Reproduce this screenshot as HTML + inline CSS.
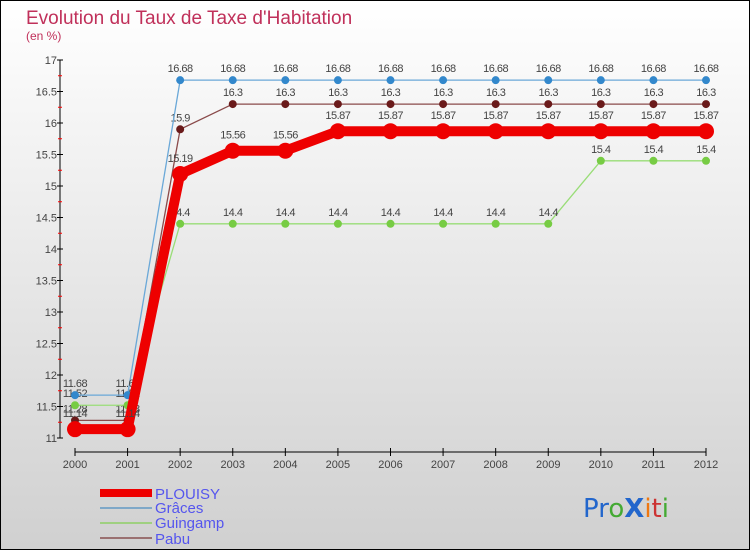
<!DOCTYPE html>
<html><head><meta charset="utf-8"><style>
body{margin:0;}
svg{display:block;font-family:"Liberation Sans",sans-serif;}
</style></head><body>
<svg width="750" height="550" viewBox="0 0 750 550">
<defs><linearGradient id="bg" x1="0" y1="0" x2="0" y2="1"><stop offset="0" stop-color="#ffffff"/><stop offset="1" stop-color="#d0d0d0"/></linearGradient></defs>
<rect x="0.5" y="0.5" width="749" height="549" fill="url(#bg)" stroke="#000"/>
<text x="26" y="24" font-size="19" fill="#c0305a">Evolution du Taux de Taxe d'Habitation</text>
<text x="26" y="40" font-size="12" fill="#c0305a">(en %)</text>
<g id="axes"></g><g id="series"></g>
<g>
<rect x="100" y="489" width="52" height="8" fill="#e00"/>
<text x="155" y="499" font-size="15" fill="#5555ee">PLOUISY</text>
<line x1="100" y1="508" x2="152" y2="508" stroke="#7fa8c8" stroke-width="2"/>
<text x="155" y="513" font-size="15" fill="#5555ee">Grâces</text>
<line x1="100" y1="523" x2="152" y2="523" stroke="#9fd080" stroke-width="2"/>
<text x="155" y="528" font-size="15" fill="#5555ee">Guingamp</text>
<line x1="100" y1="538" x2="152" y2="538" stroke="#9a7070" stroke-width="2"/>
<text x="155" y="544" font-size="15" fill="#5555ee">Pabu</text>
</g>
<g font-size="26" font-family="'DejaVu Sans',sans-serif">
<text x="583" y="517"><tspan fill="#2266cc">Pr</tspan><tspan fill="#44aa33">o</tspan><tspan fill="#2266cc" font-weight="bold">X</tspan><tspan fill="#ee7711">i</tspan><tspan fill="#cc3333">t</tspan><tspan fill="#44aa33">i</tspan></text>
</g>
</svg>
<script>
const years=[2000,2001,2002,2003,2004,2005,2006,2007,2008,2009,2010,2011,2012];
const plouisy=[11.14,11.14,15.19,15.56,15.56,15.87,15.87,15.87,15.87,15.87,15.87,15.87,15.87];
const graces=[11.68,11.68,16.68,16.68,16.68,16.68,16.68,16.68,16.68,16.68,16.68,16.68,16.68];
const guingamp=[11.52,11.52,14.4,14.4,14.4,14.4,14.4,14.4,14.4,14.4,15.4,15.4,15.4];
const pabu=[11.28,11.28,15.9,16.3,16.3,16.3,16.3,16.3,16.3,16.3,16.3,16.3,16.3];
const yTicks=[11,11.5,12,12.5,13,13.5,14,14.5,15,15.5,16,16.5,17];
const NS="http://www.w3.org/2000/svg";
const x=i=>75+i*(706-75)/12;
const y=v=>438-(v-11)*63;
function mk(t,a,p){const e=document.createElementNS(NS,t);for(const k in a)e.setAttribute(k,a[k]);p.appendChild(e);return e;}
const ax=document.getElementById('axes');
const yl=mk('line',{x1:60,y1:y(17),x2:60,y2:y(11),stroke:'#000'},ax);


yTicks.forEach(v=>{
 mk('line',{x1:57,y1:y(v),x2:63,y2:y(v),stroke:'#000'},ax);
 const t=mk('text',{x:57,y:y(v)+4,'font-size':11,fill:'#444','text-anchor':'end'},ax);t.textContent=v;
 
 
 if(v<17)mk('line',{x1:58,y1:y(v+0.25),x2:62,y2:y(v+0.25),stroke:'#f00'},ax);
});
const xl=mk('line',{x1:75,y1:452,x2:706,y2:452,stroke:'#000'},ax);


years.forEach((yr,i)=>{
 mk('line',{x1:x(i),y1:448,x2:x(i),y2:456,stroke:'#000'},ax);
 const t=mk('text',{x:x(i),y:468,'font-size':11,fill:'#444','text-anchor':'middle'},ax);t.textContent=yr;
 
 
});
const sg=document.getElementById('series');
function series(name,vals,color,dot,w,r){
 const g=mk('g',{},sg);
 
 
 mk('polyline',{points:vals.map((v,i)=>x(i)+','+y(v)).join(' '),fill:'none',stroke:color,'stroke-width':w,'stroke-linejoin':'round'},g);
 vals.forEach((v,i)=>{
  const c=mk('circle',{cx:x(i),cy:y(v),r:r,fill:dot},g);
  
  
  const t=mk('text',{x:x(i),y:y(v)-r-4,'font-size':11,fill:'#444','text-anchor':'middle','letter-spacing':'-0.5'},g);t.textContent=v;
  
  
 });
}
series('pabu',pabu,'#8a4a4a','#6a1a1a',1.3,4);
series('guingamp',guingamp,'#99dd77','#77cc44',1.3,4);
series('graces',graces,'#6aa8d8','#3388cc',1.3,4);
series('plouisy',plouisy,'#ee0000','#ee0000',10,8);
</script>
</body></html>
